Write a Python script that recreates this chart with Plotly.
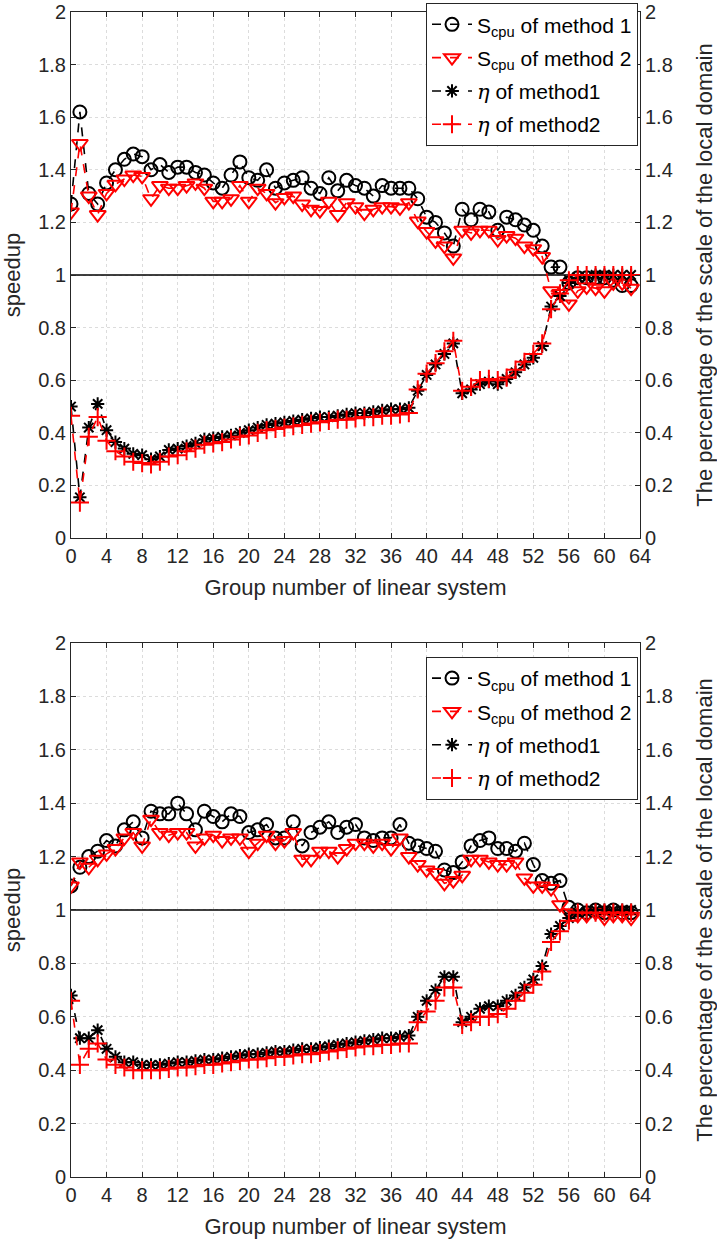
import plotly.graph_objects as go

groups = list(range(64))

# ---- top panel ----
top_s1 = [1.27, 1.62, 1.31, 1.27, 1.35, 1.40, 1.44, 1.46, 1.45, 1.40, 1.42, 1.39, 1.41, 1.41, 1.39, 1.38,
          1.35, 1.33, 1.38, 1.43, 1.37, 1.36, 1.40, 1.33, 1.35, 1.36, 1.37, 1.33, 1.31, 1.37, 1.32, 1.36,
          1.34, 1.33, 1.30, 1.34, 1.33, 1.33, 1.33, 1.29, 1.22, 1.20, 1.16, 1.11, 1.25, 1.21, 1.25, 1.24,
          1.17, 1.22, 1.21, 1.19, 1.17, 1.11, 1.03, 1.03, 0.97, 0.99, 0.99, 0.99, 0.99, 0.98, 0.96, 0.96]
top_s2 = [1.24, 1.50, 1.30, 1.23, 1.31, 1.345, 1.365, 1.38, 1.375, 1.29, 1.34, 1.33, 1.33, 1.34, 1.35, 1.33,
          1.28, 1.28, 1.29, 1.34, 1.28, 1.33, 1.31, 1.275, 1.295, 1.30, 1.27, 1.25, 1.245, 1.28, 1.23, 1.275,
          1.26, 1.235, 1.25, 1.26, 1.26, 1.255, 1.275, 1.205, 1.165, 1.13, 1.11, 1.065, 1.17, 1.16, 1.17, 1.17,
          1.135, 1.15, 1.14, 1.11, 1.10, 1.07, 0.94, 0.93, 0.89, 0.94, 0.955, 0.95, 0.94, 0.97, 0.97, 0.95]
top_eta1 = [0.50, 0.155, 0.42, 0.51, 0.41, 0.365, 0.34, 0.32, 0.315, 0.30, 0.31, 0.335, 0.34, 0.35, 0.36, 0.375,
            0.38, 0.385, 0.39, 0.40, 0.41, 0.42, 0.43, 0.435, 0.44, 0.445, 0.45, 0.455, 0.46, 0.46, 0.465, 0.47,
            0.475, 0.475, 0.48, 0.485, 0.49, 0.49, 0.495, 0.56, 0.62, 0.66, 0.70, 0.74, 0.55, 0.565, 0.585, 0.595,
            0.585, 0.605, 0.63, 0.66, 0.685, 0.73, 0.88, 0.92, 0.97, 0.99, 0.99, 1.0, 1.0, 1.0, 1.0, 1.0]
top_eta2 = [0.465, 0.135, 0.385, 0.46, 0.37, 0.33, 0.31, 0.29, 0.285, 0.28, 0.29, 0.31, 0.315, 0.33, 0.34, 0.355,
            0.36, 0.365, 0.375, 0.385, 0.39, 0.40, 0.41, 0.415, 0.42, 0.425, 0.43, 0.435, 0.44, 0.445, 0.45, 0.45,
            0.455, 0.46, 0.46, 0.465, 0.465, 0.47, 0.475, 0.565, 0.625, 0.665, 0.71, 0.75, 0.56, 0.575, 0.60, 0.605,
            0.60, 0.61, 0.64, 0.67, 0.70, 0.74, 0.87, 0.93, 0.98, 1.0, 1.0, 1.0, 1.0, 1.0, 1.0, 1.0]

# ---- bottom panel ----
bot_s1 = [1.09, 1.16, 1.20, 1.22, 1.26, 1.24, 1.30, 1.33, 1.27, 1.37, 1.36, 1.36, 1.40, 1.36, 1.30, 1.37,
          1.35, 1.33, 1.36, 1.35, 1.29, 1.30, 1.32, 1.27, 1.27, 1.33, 1.24, 1.29, 1.31, 1.33, 1.29, 1.31,
          1.32, 1.27, 1.26, 1.27, 1.27, 1.32, 1.25, 1.24, 1.23, 1.22, 1.15, 1.14, 1.18, 1.24, 1.26, 1.27,
          1.23, 1.23, 1.22, 1.25, 1.17, 1.11, 1.10, 1.11, 1.01, 1.00, 0.99, 1.00, 0.99, 1.00, 0.99, 0.99]
bot_s2 = [1.09, 1.18, 1.16, 1.19, 1.21, 1.23, 1.27, 1.29, 1.24, 1.34, 1.29, 1.28, 1.29, 1.29, 1.24, 1.27,
          1.28, 1.26, 1.27, 1.27, 1.22, 1.25, 1.28, 1.25, 1.26, 1.29, 1.19, 1.19, 1.22, 1.22, 1.20, 1.23,
          1.25, 1.25, 1.24, 1.25, 1.23, 1.27, 1.20, 1.17, 1.15, 1.14, 1.10, 1.11, 1.13, 1.19, 1.19, 1.18,
          1.17, 1.17, 1.18, 1.12, 1.09, 1.09, 1.08, 1.02, 0.99, 0.98, 0.98, 0.99, 0.97, 0.98, 0.98, 0.97]
bot_eta1 = [0.68, 0.52, 0.52, 0.55, 0.48, 0.45, 0.43, 0.43, 0.42, 0.42, 0.42, 0.425, 0.43, 0.43, 0.435, 0.44,
            0.44, 0.445, 0.45, 0.455, 0.46, 0.46, 0.465, 0.47, 0.47, 0.475, 0.48, 0.48, 0.485, 0.49, 0.495, 0.50,
            0.505, 0.51, 0.515, 0.52, 0.52, 0.525, 0.53, 0.60, 0.66, 0.70, 0.75, 0.75, 0.58, 0.60, 0.63, 0.64,
            0.64, 0.66, 0.68, 0.71, 0.74, 0.79, 0.91, 0.94, 0.97, 0.99, 0.99, 1.0, 1.0, 1.0, 1.0, 1.0]
bot_eta2 = [0.66, 0.42, 0.48, 0.50, 0.44, 0.42, 0.41, 0.40, 0.40, 0.40, 0.40, 0.405, 0.41, 0.41, 0.415, 0.42,
            0.42, 0.425, 0.43, 0.435, 0.44, 0.44, 0.445, 0.45, 0.45, 0.455, 0.46, 0.46, 0.465, 0.47, 0.475, 0.48,
            0.485, 0.49, 0.49, 0.495, 0.495, 0.50, 0.50, 0.58, 0.62, 0.66, 0.71, 0.71, 0.57, 0.58, 0.60, 0.60,
            0.61, 0.63, 0.66, 0.69, 0.72, 0.77, 0.88, 0.92, 0.96, 0.99, 0.99, 0.99, 0.99, 0.99, 0.99, 0.99]

ref_x = [0, 64]
ref_y = [1, 1]

x_ticks = list(range(0, 65, 4))
y_ticks = [0, 0.2, 0.4, 0.6, 0.8, 1, 1.2, 1.4, 1.6, 1.8, 2]
y_tick_text = ["0", "0.2", "0.4", "0.6", "0.8", "1", "1.2", "1.4", "1.6", "1.8", "2"]

names = ["S<sub>cpu</sub> of method 1", "S<sub>cpu</sub> of method 2",
         "<span style=\"font-family:'DejaVu Serif'\"><i>η</i></span> of method1",
         "<span style=\"font-family:'DejaVu Serif'\"><i>η</i></span> of method2"]

FONT = "Liberation Sans, Arial, sans-serif"
AX = "#262626"
BLACK = "#000000"
RED = "#ff0000"
GRID = "#dcdcdc"

fig = go.Figure()


def add_panel(xa, ya_left, ya_right, legend, s1, s2, e1, e2, tag):
    fig.add_trace(go.Scatter(x=ref_x, y=ref_y, mode="lines", line=dict(color=BLACK, width=1.5),
                             xaxis=xa, yaxis=ya_left, showlegend=False, hoverinfo="skip"))
    specs = [
        (s1, ya_left, BLACK, "circle-open", 13, names[0]),
        (s2, ya_left, RED, "triangle-down-open", 14, names[1]),
        (e1, ya_right, BLACK, "asterisk-open", 11, names[2]),
        (e2, ya_right, RED, "cross-thin-open", 13, names[3]),
    ]
    for i, (vals, ya, col, sym, size, nm) in enumerate(specs):
        fig.add_trace(go.Scatter(
            x=groups, y=vals, mode="lines+markers", name=nm,
            line=dict(color=col, width=1.6, dash="dash"),
            marker=dict(symbol=sym, size=size, color=col, line=dict(color=col, width=2)),
            xaxis=xa, yaxis=ya, legend=legend, legendgroup=f"{tag}{i}"))


add_panel("x", "y", "y3", "legend", top_s1, top_s2, top_eta1, top_eta2, "t")
add_panel("x2", "y2", "y4", "legend2", bot_s1, bot_s2, bot_eta1, bot_eta2, "b")

tickfont = dict(family=FONT, size=20, color=AX)
titlefont = dict(family=FONT, size=22, color=AX)

xcommon = dict(range=[0, 64], tickvals=x_ticks, ticks="inside", ticklen=5, tickcolor=AX,
               showline=True, linecolor=AX, linewidth=1, mirror="ticks", automargin=False,
               showgrid=True, gridcolor=GRID, griddash="dot", gridwidth=1,
               zeroline=False, tickfont=tickfont,
               title=dict(text="Group number of linear system", font=titlefont, standoff=13))
yleft = dict(range=[0, 2], tickvals=y_ticks, ticktext=y_tick_text, ticks="inside", ticklen=5,
             tickcolor=AX, showline=True, linecolor=AX, linewidth=1, mirror=False, automargin=False,
             showgrid=True, gridcolor=GRID, griddash="dot", gridwidth=1,
             zeroline=False, tickfont=tickfont,
             title=dict(text="speedup", font=titlefont, standoff=11))
yright = dict(range=[0, 2], tickvals=y_ticks, ticktext=y_tick_text, ticks="inside", ticklen=5,
              tickcolor=AX, showline=True, linecolor=AX, linewidth=1, side="right", automargin=False,
              showgrid=False, zeroline=False, tickfont=tickfont,
              title=dict(text="The percentage of the scale of the local domain", font=titlefont, standoff=27))

# plot region spans y = 2 .. 1177 px (height 1175)
top_dom = [0.5438, 0.9915]
bot_dom = [0.0, 0.4545]

legend_style = dict(bgcolor="white", bordercolor=AX, borderwidth=1,
                    font=dict(family=FONT, size=21, color=BLACK),
                    xanchor="right", yanchor="top", tracegroupgap=3, itemwidth=40)

fig.update_layout(
    width=717, height=1243,
    margin=dict(l=71, r=77, t=2, b=66),
    paper_bgcolor="white", plot_bgcolor="white",
    font=dict(family=FONT, color=AX),
    xaxis=dict(xcommon, domain=[0, 1], anchor="y"),
    yaxis=dict(yleft, domain=top_dom, anchor="x"),
    yaxis3=dict(yright, overlaying="y", anchor="x"),
    xaxis2=dict(xcommon, domain=[0, 1], anchor="y2"),
    yaxis2=dict(yleft, domain=bot_dom, anchor="x2"),
    yaxis4=dict(yright, overlaying="y2", anchor="x2"),
    legend=dict(legend_style, x=0.9965, y=0.999),
    legend2=dict(legend_style, x=0.9965, y=0.4426),
)

fig.write_html("out.html")
